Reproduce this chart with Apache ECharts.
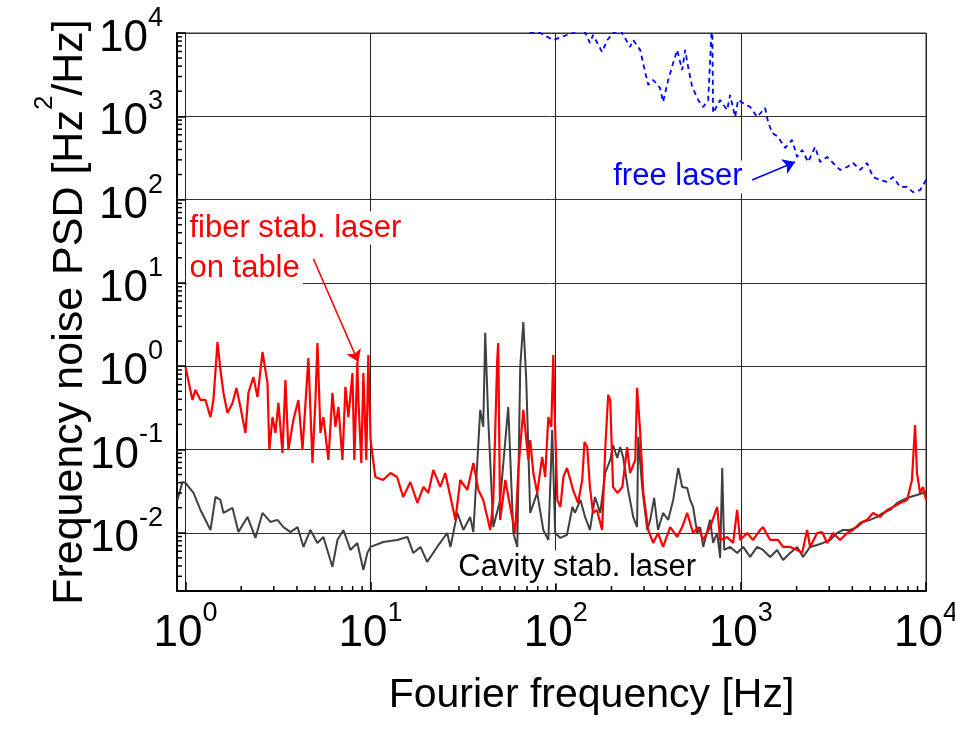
<!DOCTYPE html>
<html><head><meta charset="utf-8">
<script src="https://cdn.jsdelivr.net/npm/echarts@6/dist/echarts.min.js"></script>
<style>html,body{margin:0;padding:0;background:#fff}#c{width:955px;height:737px}</style>
</head><body><div id="c"></div>
<script>
// ---- data ----
const blackFreq = [0.905,0.963,1.0,1.105,1.205,1.365,1.452,1.545,1.604,1.795,1.932,2.162,2.388,2.606,2.877,3.14,3.38,3.69,4.03,4.34,4.73,5.16,5.56,6.22,6.62,7.13,7.78,8.48,9.14,9.60,10,
 11.7,13.9,15.8,17.0,18.6,20.2,22.9,25.9,27.0,29.4,31.7,34.5,35.9,39.1,40.6,41.6,43.2,46.0,50.1,55.4,59.0,62.0,64.3,66.8,69.3,72.8,79.4,85.7,91.2,95.7,
 99.3,106,115,123,127,136,144,153,163,174,185,197,204,215,223,231,246,262,275,279,293,312,324,340,357,380,405,431,459,482,513,532,552,581,603,626,682,708,745,773,
 793,813,875,955,1028,1122,1224,1318,1439,1570,1690,1845,2014,2168,2366,2582,2780,3034,3311,3565,3890,4246,4571,4989,5445,5861,6397,6982,7516,8204,8936,10000];
const blackPSD = [0.0248,0.0407,0.0396,0.0301,0.0188,0.0108,0.0269,0.0248,0.0173,0.0199,0.0102,0.0155,0.00867,0.0173,0.0135,0.0143,0.0117,0.0102,0.0117,0.00676,0.0108,0.00755,0.00891,0.00389,0.0082,0.0108,0.00622,0.00755,0.00358,0.00573,0.00676,
 0.00776,0.0082,0.00891,0.00573,0.00676,0.00447,0.00676,0.00995,0.00676,0.0173,0.0108,0.0155,0.0102,0.299,0.187,2.51,0.227,0.0117,0.0248,0.324,0.00995,0.00676,0.977,3.39,0.684,0.0173,0.0301,0.0108,0.0082,0.172,
 0.00995,0.00867,0.00942,0.0204,0.0173,0.0248,0.0155,0.0108,0.0269,0.0173,0.0522,0.0748,0.113,0.0791,0.107,0.0813,0.0327,0.0155,0.0117,0.142,0.0355,0.0108,0.0143,0.0262,0.0108,0.0173,0.0143,0.0248,0.06,0.0355,0.0345,0.0248,0.0204,0.00995,0.0117,0.00676,0.0143,0.00755,0.00995,0.00499,
 0.06,0.00622,0.00676,0.00573,0.00676,0.00513,0.00676,0.00622,0.00513,0.00622,0.00472,0.00573,0.00676,0.00513,0.00676,0.00714,0.00755,0.0082,0.00995,0.0108,0.0108,0.0117,0.0135,0.0143,0.0155,0.0173,0.0188,0.0228,0.0248,0.0269,0.0284,0.0309];

const redFreq = [1.0,1.091,1.132,1.205,1.282,1.365,1.416,1.489,1.545,1.604,1.686,1.795,1.885,1.981,2.108,2.188,2.328,2.449,2.606,2.773,
 2.838,2.951,3.062,3.177,3.342,3.467,3.597,3.828,4.074,4.285,4.613,4.853,5.035,5.164,5.358,5.559,5.916,6.223,6.457,6.699,
 7.047,7.311,7.586,7.98,8.17,8.48,8.59,8.91,9.14,9.48,9.72,10,10.2,10.6,11.7,12.8,13.9,15.0,16.4,17.9,
 19.3,20.5,21.8,23.8,25.3,27.0,28.7,30.5,33.3,35.9,38.2,40.6,44.3,46.0,48.3,48.9,50.1,53.4,56.8,60.4,
 62.8,66.8,71.1,72.8,75.7,79.4,84.5,87.7,91.2,94.6,97.0,98.2,102,106,110,115,120,124,132,139,
 143,148,153,159,167,178,185,192,197,204,215,229,243,252,269,275,286,297,316,336,
 357,380,415,453,482,513,552,588,626,682,745,773,843,908,955,991,1081,1164,1271,1318,
 1439,1589,1690,1845,2014,2143,2280,2366,2582,2748,2924,3148,3436,3750,4036,4406,4808,5176,5649,6166,
 6637,7244,7907,8395,8730,8936,9290,9638,10000];
const redPSD = [0.977,0.393,0.519,0.393,0.393,0.245,0.393,1.95,0.9,0.478,0.275,0.362,0.548,0.324,0.158,0.478,0.741,0.427,1.48,0.63,
 0.0986,0.245,0.158,0.362,0.0908,0.684,0.0986,0.227,0.393,0.0986,1.25,0.0689,0.393,1.9,0.158,0.245,0.0748,0.478,0.187,0.324,
 0.0748,0.564,0.245,0.828,0.0748,1.12,0.393,0.0689,0.828,0.0748,1.36,0.130,0.0908,0.0468,0.043,0.0522,0.0468,0.0269,0.0407,0.0228,
 0.0355,0.0301,0.0568,0.0355,0.0522,0.0269,0.0143,0.043,0.0327,0.0689,0.0327,0.0248,0.0108,0.0248,1.19,1.9,0.0143,0.043,0.0204,0.00995,
 0.0568,0.299,0.0748,0.130,0.0522,0.0301,0.0813,0.0468,0.245,0.187,1.36,0.393,0.0248,0.0204,0.0468,0.06,0.043,0.0327,0.0228,0.043,
 0.123,0.107,0.0355,0.0173,0.0188,0.0108,0.0986,0.452,0.393,0.0355,0.0301,0.0355,0.107,0.0522,0.0748,0.548,0.158,0.0301,0.0108,0.00755,
 0.00995,0.00676,0.0117,0.00891,0.0117,0.0173,0.00995,0.0117,0.0082,0.0117,0.0204,0.0082,0.00891,0.00755,0.0188,0.0082,0.00995,0.0082,0.0108,0.0117,
 0.0082,0.0082,0.00676,0.00676,0.00622,0.00573,0.0108,0.00676,0.00995,0.0102,0.00755,0.00995,0.0082,0.00995,0.0108,0.0131,0.0143,0.0173,0.0155,0.0188,
 0.0204,0.0228,0.0248,0.043,0.197,0.0522,0.0301,0.0355,0.0248];

const blueFreq = [34.5,64.3,72.8,82.4,97,115,124,139,153,159,178,190,204,223,252,262,286,304,316,336,366,380,405,431,453,482,500,519,546,588,
 626,666,700,708,773,843,875,931,966,1028,1122,1224,1352,1403,1476,1589,1734,1892,2014,2143,2307,2518,2679,2924,3148,3436,3750,4036,4406,4808,
 5176,5649,6166,6637,7244,7907,8511,9290,10000];
const bluePSD = [30000,15000,10280,10000,8241,9462,10000,12000,7586,9462,5916,8241,10000,11000,6792,8241,6252,3404,2377,2729,2188,1486,2729,4365,6252,3597,6252,3908,2249,1570,
 1294,1570,15000,1096,1570,1191,1803,982,1570,1445,1294,982,1259,855,631,565,417,520,325,394,283,429,283,325,275,227,246,275,227,275,
 187,172,163,187,142,142,123,130,172];

const xMin = 0.9, xMax = 10000, yMin = 0.002, yMax = 10000;
const xDecades = [1, 10, 100, 1000];
const yDecades = [0.001, 0.01, 0.1, 1, 10, 100, 1000];
const minorMult = [2, 3, 4, 5, 6, 7, 8, 9];

const annotations = {
  fiber1: { text: 'fiber stab. laser', at: [1.012, 45.6] },
  fiber2: { text: 'on table', at: [1.012, 15.1] },
  free: { text: 'free laser', at: [197, 187] },
  cavity: { text: 'Cavity stab. laser', at: [28.7, 0.00388] },
  redArrow: [[4.91, 19.4], [8.59, 1.12]],
  blueArrow: [[1150, 172], [1963, 283]]
};

// ---- build ----
const zip = (a, b) => a.map((v, i) => [v, b[i]]);
const xMinor = [], yMinor = [];
xDecades.forEach(d => minorMult.forEach(m => { const v = d * m; if (v > xMin && v < xMax) xMinor.push([v, yMin]); }));
yDecades.forEach(d => minorMult.forEach(m => { const v = d * m; if (v > yMin && v < yMax) yMinor.push([xMin, v]); }));

function expLabel(v) {
  const e = Math.log10(v), r = Math.round(e);
  if (Math.abs(e - r) > 1e-6) return '';
  return '{b|10}{s|' + r + '}';
}
const tickRich = {
  b: { fontFamily: 'Liberation Sans Narrow, Liberation Sans, Arial', fontSize: 44, lineHeight: 56, verticalAlign: 'bottom', color: '#000' },
  s: { fontFamily: 'Liberation Sans Narrow, Liberation Sans, Arial', fontSize: 27, lineHeight: 24, verticalAlign: 'top', color: '#000' }
};
function tickRender(dir) {
  return function (params, api) {
    const p = api.coord([api.value(0), api.value(1)]);
    const len = 5;
    const shape = dir === 'x' ? { x1: p[0], y1: p[1], x2: p[0], y2: p[1] - len }
                              : { x1: p[0], y1: p[1], x2: p[0] + len, y2: p[1] };
    return { type: 'line', shape: shape, style: { stroke: '#000', lineWidth: 1.5 } };
  };
}
const annoFont = { fontFamily: 'Liberation Sans, Arial', fontSize: 31 };
function annoLabel(a, color) {
  return { coord: a.at, label: Object.assign({ show: true, position: 'right', distance: 0, formatter: a.text, color: color, align: 'left', backgroundColor: '#fff', padding: [1, 3, 1, 3] }, annoFont) };
}
function arrowPair(a, color) {
  const ls = { color: color, width: 1.5, type: 'solid' };
  return [{ coord: a[0], lineStyle: ls, itemStyle: { color: color } }, { coord: a[1], lineStyle: ls, itemStyle: { color: color } }];
}

const chart = echarts.init(document.getElementById('c'), null, { renderer: 'canvas' });
chart.setOption({
  animation: false,
  backgroundColor: '#fff',
  grid: { left: 177, right: 29, top: 33, bottom: 146, show: true, borderColor: '#333', borderWidth: 1, backgroundColor: 'transparent', outerBoundsMode: 'none' },
  xAxis: {
    type: 'log', logBase: 10, min: xMin, max: xMax,
    axisLine: { show: true, lineStyle: { color: '#000', width: 2 } },
    axisTick: { show: true, inside: true, length: 9, lineStyle: { color: '#000', width: 1.5 } },
    axisLabel: { formatter: expLabel, margin: 9, rich: tickRich },
    splitLine: { show: true, lineStyle: { color: '#222', width: 1 } },
    name: 'Fourier frequency [Hz]', nameLocation: 'middle', nameGap: 84, nameMoveOverlap: false,
    nameTextStyle: { fontFamily: 'Liberation Sans, Arial', fontSize: 41, color: '#000', padding: [0, 0, 0, 80] }
  },
  yAxis: {
    type: 'log', logBase: 10, min: yMin, max: yMax,
    axisLine: { show: true, lineStyle: { color: '#000', width: 2 } },
    axisTick: { show: true, inside: true, length: 9, lineStyle: { color: '#000', width: 1.5 } },
    axisLabel: { formatter: expLabel, margin: 14, rich: tickRich },
    splitLine: { show: true, lineStyle: { color: '#333', width: 1 } },
    name: '{t|Frequency noise PSD [Hz}{s|2}{t|/Hz]}', nameLocation: 'middle', nameGap: 85, nameMoveOverlap: false,
    nameTextStyle: { rich: {
      t: { fontFamily: 'Liberation Sans, Arial', fontSize: 43, lineHeight: 60, verticalAlign: 'bottom', color: '#000' },
      s: { fontFamily: 'Liberation Sans, Arial', fontSize: 26, lineHeight: 24, verticalAlign: 'top', color: '#000' }
    } }
  },
  series: [
    { type: 'custom', coordinateSystem: 'cartesian2d', data: xMinor, renderItem: tickRender('x'), silent: true, clip: false, z: 5 },
    { type: 'custom', coordinateSystem: 'cartesian2d', data: yMinor, renderItem: tickRender('y'), silent: true, clip: false, z: 5 },
    { name: 'Cavity stab. laser', type: 'line', data: zip(blackFreq, blackPSD), showSymbol: false, silent: true,
      lineStyle: { color: '#404040', width: 2 }, z: 2 },
    { name: 'fiber stab. laser on table', type: 'line', data: zip(redFreq, redPSD), showSymbol: false, silent: true,
      lineStyle: { color: '#ff0000', width: 2.2 }, z: 3 },
    { name: 'free laser', type: 'line', data: zip(blueFreq, bluePSD), showSymbol: false, silent: true,
      lineStyle: { color: '#0000ff', width: 1.8, type: [5, 4] }, z: 4,
      markLine: {
        silent: true, symbol: ['none', 'arrow'], symbolSize: 12, label: { show: false },
        emphasis: { disabled: true },
        data: [arrowPair(annotations.redArrow, '#ff0000'), arrowPair(annotations.blueArrow, '#0000ff')]
      },
      markPoint: {
        silent: true, symbol: 'circle', symbolSize: 0,
        data: [
          annoLabel(annotations.fiber1, '#ff0000'),
          annoLabel(annotations.fiber2, '#ff0000'),
          annoLabel(annotations.free, '#0000ff'),
          annoLabel(annotations.cavity, '#000')
        ]
      }
    }
  ]
});
</script>
</body></html>
